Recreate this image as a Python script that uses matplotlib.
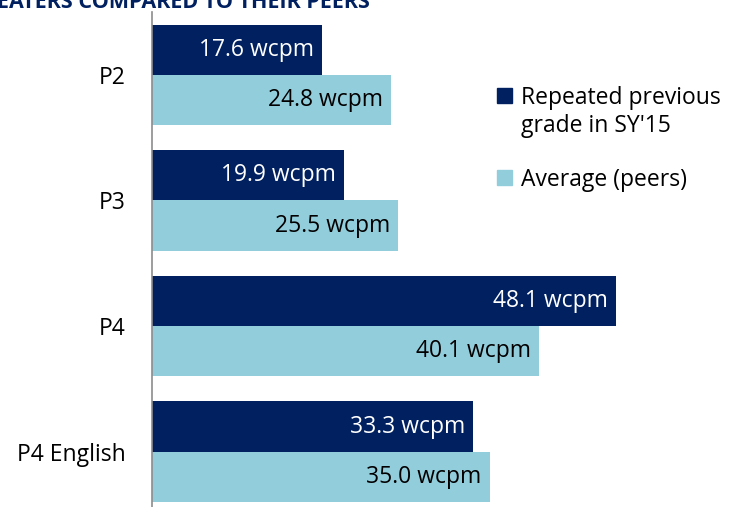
import matplotlib.pyplot as plt
from matplotlib.patches import Rectangle
import numpy as np

categories = ["P2", "P3", "P4", "P4 English"]
repeated = [17.6, 19.9, 48.1, 33.3]
average = [24.8, 25.5, 40.1, 35.0]
series_names = ["Repeated previous\ngrade in SY'15", "Average (peers)"]

dark = "#002060"
light = "#92CDDC"
plt.rcParams["font.family"] = ["Open Sans", "DejaVu Sans"]

W, H = 739, 507
fig = plt.figure(figsize=(W / 100, H / 100), dpi=100)
ax = fig.add_axes([152 / W, 0, 1 - 152 / W, 1 - 12 / H])

y = np.arange(len(categories))
h = 0.4
b1 = ax.barh(y - h / 2, repeated, height=h, color=dark)
b2 = ax.barh(y + h / 2, average, height=h, color=light)

for bars, vals, col in [(b1, repeated, "white"), (b2, average, "black")]:
    for bar, v in zip(bars, vals):
        ax.annotate(f"{v:.1f} wcpm", (v, bar.get_y() + bar.get_height() / 2),
                    xytext=(-6, 0), textcoords="offset points",
                    ha="right", va="center", color=col, fontsize=16.5)

ax.set_xlim(0, 60.8)
ax.set_ylim(3.44, -0.5)
ax.set_yticks(y, categories, fontsize=16.5)
ax.tick_params(axis="y", length=0, pad=19)
ax.set_xticks([])
for s in ["top", "right", "bottom"]:
    ax.spines[s].set_visible(False)
ax.spines["left"].set_color("#8c8c8c")
ax.spines["left"].set_linewidth(1.2)

# legend drawn by hand so the swatch sits on the first text line
for (top, label), col in zip([(88, series_names[0]), (170, series_names[1])], [dark, light]):
    fig.patches.append(Rectangle((497 / W, 1 - (top + 15) / H), 15 / W, 15 / H,
                                 color=col, transform=fig.transFigure))
    fig.text(521 / W, 1 - (top - 2) / H, label, fontsize=16.5, ha="left", va="top",
             linespacing=1.2)

fig.text(-0.004, 1.016, "EATERS COMPARED TO THEIR PEERS", color=dark,
         fontsize=15.5, fontweight="bold", ha="left", va="top")

fig.savefig("out.png", dpi=100)
